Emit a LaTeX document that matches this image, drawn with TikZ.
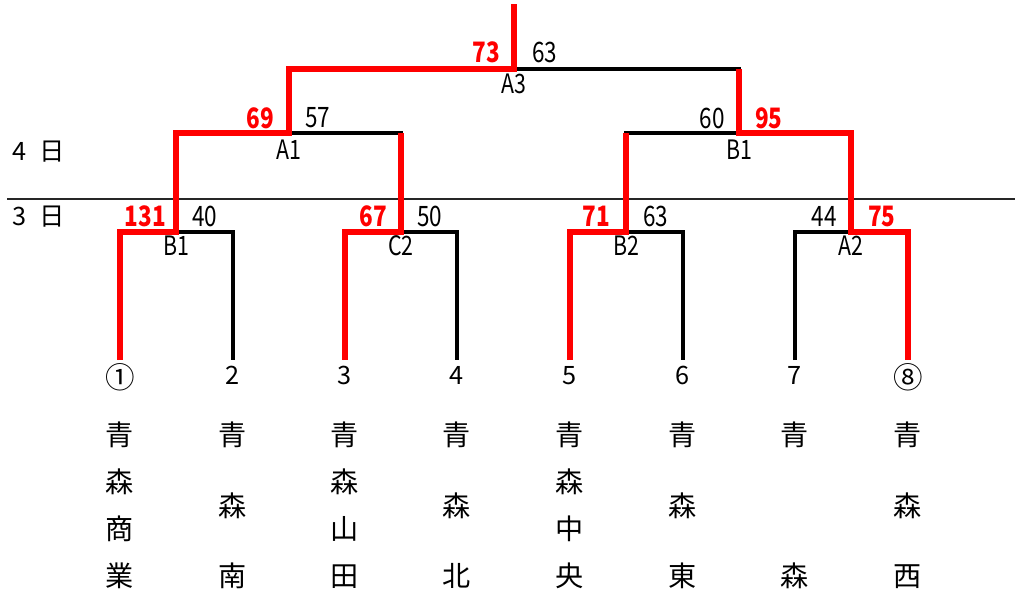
\documentclass[tikz,border=0pt]{standalone}
\usepackage{fontspec}
\setmainfont{Noto Sans CJK JP}
\newfontfamily\scorefont[FakeStretch=0.8]{Noto Sans CJK JP}
\tikzset{
	loser/.style={line width=2.3pt, color=black},
	winner/.style={line width=4pt, color=red},
	daysep/.style={line width=0.8pt, color=black!85},
	pts/.style={inner sep=0pt, font=\scorefont\fontsize{20}{20}\selectfont},
	winpts/.style={pts, color=red, font=\scorefont\bfseries\fontsize{20}{20}\selectfont},
	gamename/.style={inner sep=0pt, font=\scorefont\fontsize{19}{19}\selectfont},
	seed/.style={anchor=north, inner sep=0pt, outer sep=4.3pt, text height=13pt, text depth=0pt, font=\fontsize{18}{18}\selectfont},
	topseed/.style={seed, text height=16pt, font=\fontsize{21}{21}\selectfont},
	school/.style={anchor=north, inner sep=0pt, align=center, font=\fontsize{20}{33.4}\selectfont},
	day/.style={inner sep=0pt, font=\fontsize{18}{18}\selectfont}
}

\begin{document}
\begin{tikzpicture}[x=0.025cm, y=-0.025cm]
			%%%%% START %%%%%
			\useasboundingbox (0,0) rectangle (1015,591);
			
			\draw[daysep] (7,199) -- (1015,199);
			\node[day] (d4) at (39,152) {4\enspace 日};
			\node[day] (d3) at (39,217) {3\enspace 日};
			
			\node[topseed] (s1) at (120,360) {①};
			\node[seed] (s2) at (233,360) {2};
			\node[seed] (s3) at (345,360) {3};
			\node[seed] (s4) at (457,360) {4};
			\node[seed] (s5) at (570,360) {5};
			\node[seed] (s6) at (683,360) {6};
			\node[seed] (s7) at (795,360) {7};
			\node[topseed] (s8) at (908,360) {⑧};
			
			\node[school] (n1) at (120,422) {青\\森\\商\\業};
			\node[school] (n2) at (233,422) {青\\[16.7pt]森\\[16.7pt]南};
			\node[school] (n3) at (345,422) {青\\森\\山\\田};
			\node[school] (n4) at (457,422) {青\\[16.7pt]森\\[16.7pt]北};
			\node[school] (n5) at (570,422) {青\\森\\中\\央};
			\node[school] (n6) at (683,422) {青\\[16.7pt]森\\[16.7pt]東};
			\node[school] (n7) at (795,422) {青\\[66.9pt]森};
			\node[school] (n8) at (908,422) {青\\[16.7pt]森\\[16.7pt]西};
			
			\coordinate (g1) at (176,232);
			\coordinate (g2) at (401,232);
			\coordinate (g3) at (626,232);
			\coordinate (g4) at (851,232);
			\coordinate (h1) at (289,133);
			\coordinate (h2) at (739,133);
			\coordinate (fin) at (514,69);
			\coordinate (top) at (514,4);
			
			\draw[loser] (s1.north) |- (g1) -| (s2.north);
			\draw[loser] (s3.north) |- (g2) -| (s4.north);
			\draw[loser] (s5.north) |- (g3) -| (s6.north);
			\draw[loser] (s7.north) |- (g4) -| (s8.north);
			\draw[loser] (g1) |- (h1) -| (g2);
			\draw[loser] (g3) |- (h2) -| (g4);
			\draw[loser] (h1) |- (fin) -| (h2);
			\draw[loser] (fin) -- (top);
			
			\draw[winner] (s1.north) |- (g1) |- (h1) |- (fin) -- (top);
			\draw[winner] (s3.north) |- (g2) -- (g2 |- h1);
			\draw[winner] (s5.north) |- (g3) -- (g3 |- h2);
			\draw[winner] (s8.north) |- (g4) |- (h2) -- (h2 |- fin);
			
			\node[gamename] (m1) at (176,246) {B1};
			\node[gamename] (m2) at (401,246) {C2};
			\node[gamename] (m3) at (626,246) {B2};
			\node[gamename] (m4) at (851,246) {A2};
			\node[gamename] (m5) at (289,150) {A1};
			\node[gamename] (m6) at (739,150) {B1};
			\node[gamename] (m7) at (514,84) {A3};
			
			\node[winpts, anchor=east] (p1) at (166,216) {131};
			\node[pts, anchor=west] (p2) at (192,216) {40};
			\node[winpts, anchor=east] (p3) at (387,216) {67};
			\node[pts, anchor=west] (p4) at (417,216) {50};
			\node[winpts, anchor=east] (p5) at (610,216) {71};
			\node[pts, anchor=west] (p6) at (643,216) {63};
			\node[pts, anchor=east] (p7) at (837,216) {44};
			\node[winpts, anchor=west] (p8) at (868,216) {75};
			\node[winpts, anchor=east] (p9) at (274,118) {69};
			\node[pts, anchor=west] (p10) at (305,118) {57};
			\node[pts, anchor=east] (p11) at (725,118) {60};
			\node[winpts, anchor=west] (p12) at (755,118) {95};
			\node[winpts, anchor=east] (p13) at (500,52) {73};
			\node[pts, anchor=west] (p14) at (532,52) {63};
			
			%%%%% END %%%%%
		\end{tikzpicture}
\end{document}
